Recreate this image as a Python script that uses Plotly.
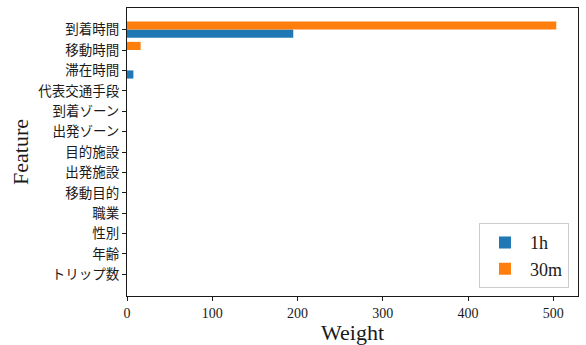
import plotly.graph_objects as go

features = ["到着時間", "移動時間", "滞在時間", "代表交通手段", "到着ゾーン", "出発ゾーン",
            "目的施設", "出発施設", "移動目的", "職業", "性別", "年齢", "トリップ数"]
w_1h = [195, 0, 7.5, 0, 0, 0, 0, 0, 0, 0, 0, 0, 0]
w_30m = [503.5, 16, 0, 0, 0, 0, 0, 0, 0, 0, 0, 0, 0]
x_ticks = [0, 100, 200, 300, 400, 500]

pos = list(range(len(features)))
FONT = "Liberation Serif, Noto Sans CJK JP, serif"

fig = go.Figure()
fig.add_trace(go.Bar(y=pos, x=w_1h, orientation="h", name="1h", width=0.4, offset=0,
                     marker=dict(color="#1f77b4", line=dict(width=0)), showlegend=True))
fig.add_trace(go.Bar(y=pos, x=w_30m, orientation="h", name="30m", width=0.4, offset=-0.4,
                     marker=dict(color="#ff7f0e", line=dict(width=0)), showlegend=True))

fig.update_layout(
    width=586, height=345,
    margin=dict(l=127, r=8, t=7, b=45),
    barmode="overlay",
    plot_bgcolor="white", paper_bgcolor="white",
    font=dict(family=FONT, color="#1a1a1a", size=13),
    legend=dict(x=0.98, y=0.027, xanchor="right", yanchor="bottom",
                bgcolor="rgba(255,255,255,0.8)", bordercolor="#cccccc", borderwidth=1,
                font=dict(size=18, family=FONT), traceorder="normal", itemwidth=40,
                tracegroupgap=4),
)
fig.update_xaxes(
    range=[0, 529], tickvals=x_ticks, ticks="outside", ticklen=4, tickcolor="#1a1a1a",
    showline=True, linecolor="#1a1a1a", linewidth=1, mirror=True, showgrid=False, zeroline=False,
    tickfont=dict(size=14, family=FONT),
    title=dict(text="Weight", font=dict(size=22, family=FONT), standoff=2),
)
fig.update_yaxes(
    range=[len(features) - 1 + 1.06, -1.06], tickvals=pos, ticktext=features,
    ticks="outside", ticklen=4, tickcolor="#1a1a1a",
    showline=True, linecolor="#1a1a1a", linewidth=1, mirror=True, showgrid=False, zeroline=False,
    tickfont=dict(size=13.5, family=FONT),
    title=dict(text="Feature", font=dict(size=22, family=FONT), standoff=3),
)

fig.write_html("out.html")
